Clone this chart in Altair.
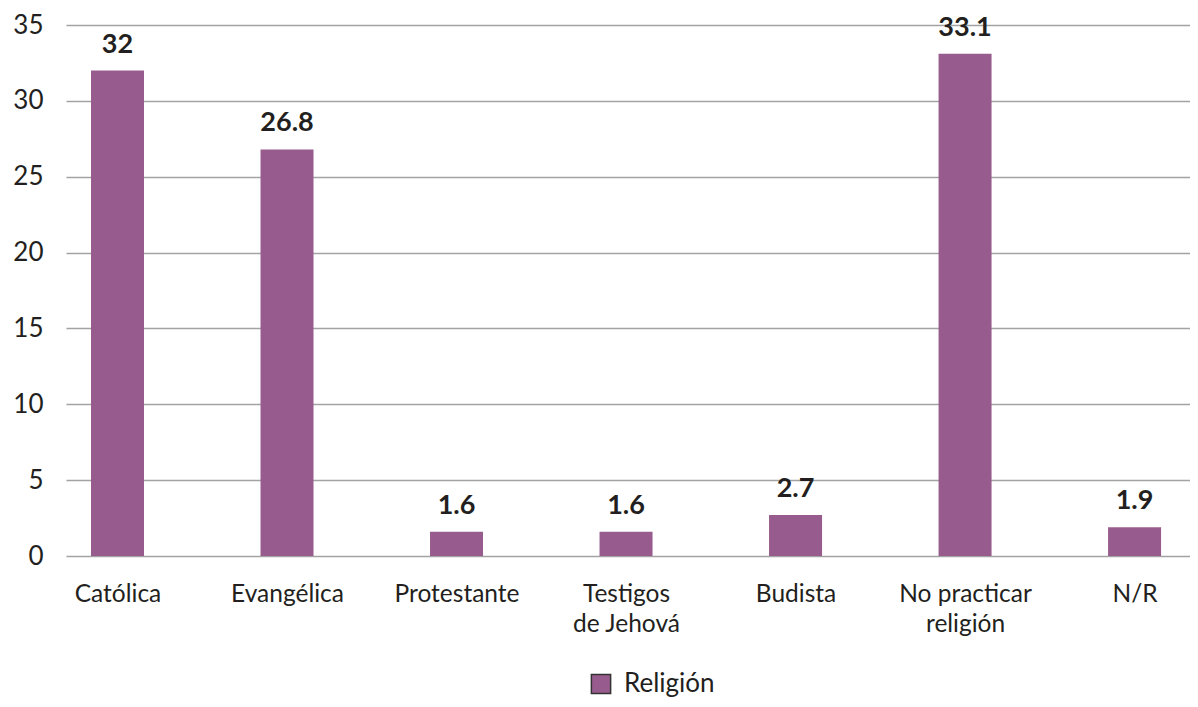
import json
import altair as alt
import pandas as pd

categories = ["Católica", "Evangélica", "Protestante", "Testigos|de Jehová", "Budista", "No practicar|religión", "N/R"]
values = [32, 26.8, 1.6, 1.6, 2.7, 33.1, 1.9]
series_name = "Religión"
y_ticks = [0, 5, 10, 15, 20, 25, 30, 35]

df = pd.DataFrame({
    "idx": list(range(len(categories))),
    "cat": categories,
    "value": values,
    "serie": [series_name] * len(categories),
})

FONT = "Lato"
TXT = "#231F20"
BAR = "#975B8E"

label_expr = "split(" + json.dumps(categories) + "[datum.value], '|')"

x = alt.X("idx:Q",
          scale=alt.Scale(domain=[-0.3038, 6.327], nice=False, zero=False, padding=0),
          axis=alt.Axis(values=list(range(len(categories))), labelExpr=label_expr,
                        grid=False, ticks=False, domain=False, title=None,
                        labelFont=FONT, labelFontSize=24.5, labelColor=TXT,
                        labelPadding=26, labelLineHeight=30, labelBaseline="top"))
y = alt.Y("value:Q",
          scale=alt.Scale(domain=[0, 35], nice=False, padding=0),
          axis=alt.Axis(values=y_ticks, grid=True, gridColor="#A3A3A3", gridWidth=1.5,
                        ticks=False, domain=False, title=None,
                        labelFont=FONT, labelFontSize=26, labelColor=TXT, labelPadding=23))

bars = alt.Chart(df).mark_bar(size=53).encode(
    x=x, y=y,
    color=alt.Color("serie:N", scale=alt.Scale(range=[BAR]),
                    legend=alt.Legend(title=None, orient="none", legendX=522, legendY=646,
                                      symbolType="square", symbolSize=370,
                                      symbolStrokeColor="#333333", symbolStrokeWidth=1.5,
                                      symbolOpacity=1,
                                      labelFont=FONT, labelFontSize=26, labelColor=TXT,
                                      labelOffset=10))
)

labels = alt.Chart(df).mark_text(font=FONT, fontSize=27, fontWeight="bold", color=TXT,
                                 baseline="alphabetic", dy=-18).encode(
    x="idx:Q", y="value:Q", text="value:Q"
)

chart = alt.layer(bars, labels).properties(
    width=1124, height=531,
    autosize=alt.AutoSizeParams(type="none"),
    padding={"left": 58, "top": 17, "right": 0, "bottom": 143},
).configure_view(stroke=None)

chart.save("out.html", embed_options={"renderer": "svg", "actions": False})
